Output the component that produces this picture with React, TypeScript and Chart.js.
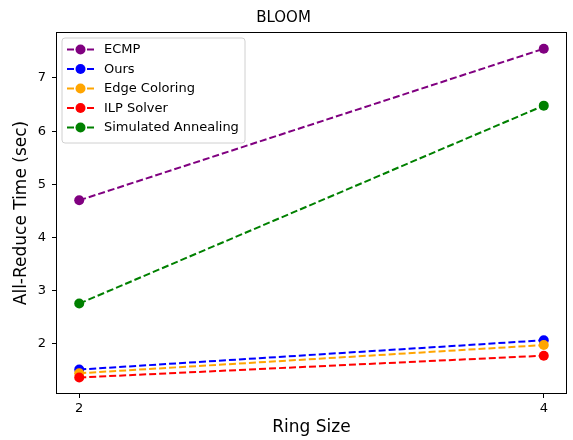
import React, { useEffect, useRef } from "react";
import { Chart, registerables } from "chart.js";

Chart.register(...registerables);

const ringSizes = [2, 4];
const seriesNames = ["ECMP", "Ours", "Edge Coloring", "ILP Solver", "Simulated Annealing"];
const seriesColors = ["#800080", "#0000ff", "#ffa500", "#ff0000", "#008000"];
const ecmp = [4.70, 7.55];
const ours = [1.52, 2.07];
const edgeColoring = [1.45, 1.98];
const ilpSolver = [1.37, 1.78];
const simAnnealing = [2.76, 6.48];
const yTicks = [2, 3, 4, 5, 6, 7];
const xTicks = [2, 4];

const FONT = "'DejaVu Sans', sans-serif";

export default function App() {
  const ref = useRef<HTMLCanvasElement | null>(null);

  useEffect(() => {
    document.body.style.margin = "0";
    const canvas = ref.current;
    if (!canvas) return;
    const values = [ecmp, ours, edgeColoring, ilpSolver, simAnnealing];

    const framePlugin = {
      id: "frame",
      afterDatasetsDraw(chart: any) {
        const { ctx, chartArea } = chart;
        ctx.save();
        ctx.strokeStyle = "#000";
        ctx.lineWidth = 1;
        const l = Math.round(chartArea.left) + 0.5;
        const t = Math.round(chartArea.top) + 0.5;
        const r = Math.round(chartArea.right) - 0.5;
        const b = Math.round(chartArea.bottom) - 0.5;
        ctx.strokeRect(l, t, r - l, b - t);
        ctx.restore();
      },
    };

    const legendPlugin = {
      id: "mplLegend",
      afterDraw(chart: any) {
        const { ctx, chartArea } = chart;
        const bx = chartArea.left + 6;
        const by = chartArea.top + 6;
        const bw = 183;
        const bh = 105;
        ctx.save();
        ctx.beginPath();
        const r = 3;
        ctx.moveTo(bx + r, by);
        ctx.lineTo(bx + bw - r, by);
        ctx.quadraticCurveTo(bx + bw, by, bx + bw, by + r);
        ctx.lineTo(bx + bw, by + bh - r);
        ctx.quadraticCurveTo(bx + bw, by + bh, bx + bw - r, by + bh);
        ctx.lineTo(bx + r, by + bh);
        ctx.quadraticCurveTo(bx, by + bh, bx, by + bh - r);
        ctx.lineTo(bx, by + r);
        ctx.quadraticCurveTo(bx, by, bx + r, by);
        ctx.closePath();
        ctx.fillStyle = "rgba(255,255,255,0.8)";
        ctx.fill();
        ctx.strokeStyle = "#d0d0d0";
        ctx.lineWidth = 1;
        ctx.stroke();
        chart.data.datasets.forEach((ds: any, i: number) => {
          const cy = by + 11.5 + i * 19.5;
          ctx.strokeStyle = ds.borderColor;
          ctx.lineWidth = 2;
          ctx.setLineDash([7, 3]);
          ctx.beginPath();
          ctx.moveTo(bx + 5, cy);
          ctx.lineTo(bx + 32, cy);
          ctx.stroke();
          ctx.setLineDash([]);
          ctx.fillStyle = ds.borderColor;
          ctx.beginPath();
          ctx.arc(bx + 18.5, cy, 5, 0, Math.PI * 2);
          ctx.fill();
          ctx.fillStyle = "#000";
          ctx.font = "13px " + FONT;
          ctx.textBaseline = "middle";
          ctx.textAlign = "left";
          ctx.fillText(ds.label, bx + 42, cy + 0.5);
        });
        ctx.restore();
      },
    };

    const chart = new Chart(canvas, {
      type: "line",
      data: {
        datasets: seriesNames.map((name, i) => ({
          label: name,
          data: ringSizes.map((x, j) => ({ x, y: values[i][j] })),
          borderColor: seriesColors[i],
          backgroundColor: seriesColors[i],
          pointBackgroundColor: seriesColors[i],
          pointBorderWidth: 0,
          pointRadius: 5,
          borderWidth: 2,
          borderDash: [7, 3],
          fill: false,
          tension: 0,
          order: seriesNames.length - i,
        })),
      },
      options: {
        animation: false,
        responsive: false,
        maintainAspectRatio: false,
        layout: { padding: { left: 0, right: 6, top: 0, bottom: 0 } },
        plugins: {
          legend: { display: false },
          tooltip: { enabled: false },
          title: {
            display: true,
            text: "BLOOM",
            color: "#000",
            font: { family: FONT, size: 15, weight: "normal" as any, lineHeight: 1.2 },
            padding: { top: 9, bottom: 5 },
          },
        },
        scales: {
          x: {
            type: "linear",
            min: 1.9,
            max: 4.1,
            afterBuildTicks: (s: any) => {
              s.ticks = xTicks.map((v) => ({ value: v }));
            },
            afterFit: (s: any) => {
              s.height = 46;
            },
            grid: { display: true, drawOnChartArea: false, drawTicks: true, tickLength: 4, tickColor: "#000" },
            border: { display: false },
            ticks: { color: "#000", font: { family: FONT, size: 13 }, padding: 3, maxRotation: 0 },
            title: {
              display: true,
              text: "Ring Size",
              color: "#000",
              font: { family: FONT, size: 17 },
              padding: { top: 0, bottom: 2 },
            },
          },
          y: {
            type: "linear",
            min: 1.06,
            max: 7.864,
            afterBuildTicks: (s: any) => {
              s.ticks = yTicks.map((v) => ({ value: v }));
            },
            afterFit: (s: any) => {
              s.width = 56;
            },
            grid: { display: true, drawOnChartArea: false, drawTicks: true, tickLength: 4, tickColor: "#000" },
            border: { display: false },
            ticks: { color: "#000", font: { family: FONT, size: 13 }, padding: 6 },
            title: {
              display: true,
              text: "All-Reduce Time (sec)",
              color: "#000",
              font: { family: FONT, size: 17 },
              padding: { top: 11, bottom: 0 },
            },
          },
        },
      },
      plugins: [framePlugin, legendPlugin],
    });

    return () => chart.destroy();
  }, []);

  return (
    <div style={{ position: "absolute", left: 0, top: 0, width: 573, height: 440, background: "#fff" }}>
      <canvas ref={ref} width={573} height={440} style={{ width: 573, height: 440 }} />
    </div>
  );
}
